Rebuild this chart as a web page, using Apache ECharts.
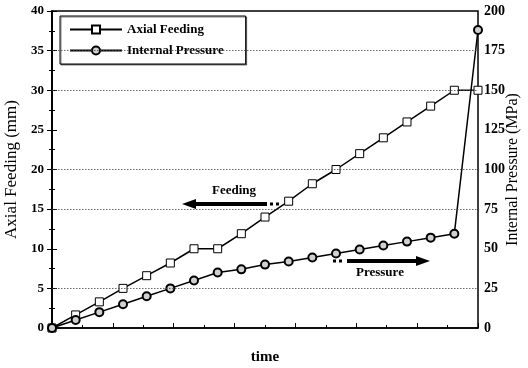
<!DOCTYPE html>
<html>
<head>
<meta charset="utf-8">
<script src="https://cdn.jsdelivr.net/npm/echarts@6/dist/echarts.min.js"></script>
<style>
  html, body { margin: 0; padding: 0; background: #fff; }
  #chart { width: 528px; height: 368px; }
</style>
</head>
<body>
<div id="chart"></div>
<script>
// Sample index along the time axis (evenly spaced loading steps)
const timeSteps = [0,1,2,3,4,5,6,7,8,9,10,11,12,13,14,15,16,17,18];
// Axial feeding, mm (left axis)
const axialFeeding = [0,1.65,3.3,5,6.6,8.2,10,10,11.9,14,16,18.2,20,22,24,26,28,30,30];
// Internal pressure, MPa (right axis)
const internalPressure = [0,5,10,15,20,25,30,35,37,40,42,44.5,47,49.5,52,54.5,57,59.5,188];
// Dotted reference levels on the feeding scale
const guideLevels = [5,15,20,30,35];

const serif = '"Liberation Serif", "Times New Roman", serif';
const chart = echarts.init(document.getElementById('chart'), null, { renderer: 'canvas' });

const pair = (xs, ys) => xs.map((x, i) => [x, ys[i]]);

chart.setOption({
  animation: false,
  backgroundColor: '#fff',
  grid: {
    left: 52, right: 50, top: 11, bottom: 40,
    outerBoundsMode: 'none', containLabel: false,
    show: true, borderColor: '#000', borderWidth: 1.5
  },
  legend: {
    left: 60, top: 16, orient: 'vertical',
    itemWidth: 52, itemHeight: 10, itemGap: 8,
    padding: [7, 22, 7, 9],
    borderColor: '#000', borderWidth: 1,
    shadowColor: 'rgba(0,0,0,0.5)', shadowOffsetX: 1, shadowOffsetY: 1,
    backgroundColor: '#fff',
    textStyle: { fontFamily: serif, fontWeight: 'bold', fontSize: 13, color: '#000' },
    data: ['Axial Feeding', 'Internal Pressure']
  },
  xAxis: [
    {
      // visible time axis: ticks only, no numbers
      type: 'value', min: 0, max: 7, interval: 1,
      name: 'time', nameLocation: 'middle', nameGap: 22,
      nameTextStyle: { fontFamily: serif, fontSize: 15, fontWeight: 'bold', color: '#000' },
      axisLine: { lineStyle: { color: '#000', width: 1.5 } },
      axisTick: { inside: true, length: 5, lineStyle: { color: '#000' } },
      minorTick: { show: true, splitNumber: 2, length: 3, lineStyle: { color: '#000' } },
      axisLabel: { show: false },
      splitLine: { show: false }
    },
    {
      // data axis for the sample index
      type: 'value', min: 0, max: 18, show: false, position: 'bottom'
    }
  ],
  yAxis: [
    {
      type: 'value', min: 0, max: 40, interval: 5, position: 'left',
      name: 'Axial Feeding (mm)', nameLocation: 'middle', nameGap: 30, nameRotate: 90,
      nameTextStyle: { fontFamily: serif, fontSize: 17, color: '#000' },
      axisLine: { show: true, lineStyle: { color: '#000', width: 1.5 } },
      axisTick: { inside: true, length: 5, lineStyle: { color: '#000' } },
      minorTick: { show: true, splitNumber: 2, length: 3, lineStyle: { color: '#000' } },
      axisLabel: { fontFamily: serif, fontSize: 13, fontWeight: 'bold', color: '#000', margin: 8 },
      splitLine: { show: false }
    },
    {
      type: 'value', min: 0, max: 200, interval: 25, position: 'right',
      name: 'Internal Pressure (MPa)', nameLocation: 'middle', nameGap: 27, nameRotate: 90,
      nameMoveOverlap: false,
      nameTextStyle: { fontFamily: serif, fontSize: 16, color: '#000' },
      axisLine: { show: true, lineStyle: { color: '#000', width: 1.5 } },
      axisTick: { inside: true, length: 5, lineStyle: { color: '#000' } },
      minorTick: { show: true, splitNumber: 2, length: 3, lineStyle: { color: '#000' } },
      axisLabel: { fontFamily: serif, fontSize: 14, fontWeight: 'bold', color: '#000', margin: 6 },
      splitLine: { show: false }
    }
  ],
  series: [
    {
      name: 'Axial Feeding', type: 'line', xAxisIndex: 1, yAxisIndex: 0,
      data: pair(timeSteps, axialFeeding),
      symbol: 'rect', symbolSize: 8, showAllSymbol: true,
      lineStyle: { color: '#000', width: 1.5 },
      itemStyle: { color: '#fff', borderColor: '#000', borderWidth: 1 },
      z: 3,
      markLine: {
        silent: true, symbol: 'none', label: { show: false },
        lineStyle: { type: [1.5, 1.5], color: '#444', width: 0.8 },
        data: guideLevels.map(v => ({ yAxis: v }))
      }
    },
    {
      name: 'Internal Pressure', type: 'line', xAxisIndex: 1, yAxisIndex: 1,
      data: pair(timeSteps, internalPressure),
      symbol: 'circle', symbolSize: 8, showAllSymbol: true,
      lineStyle: { color: '#000', width: 1.5 },
      itemStyle: { color: '#d0d0d0', borderColor: '#000', borderWidth: 2 },
      z: 4
    }
  ],
  graphic: [
    // "Feeding" annotation: arrow pointing left
    { type: 'text', left: 212, top: 184, style: { text: 'Feeding', font: 'bold 13px ' + serif, fill: '#000' } },
    { type: 'line', shape: { x1: 190, y1: 204, x2: 267, y2: 204 }, style: { stroke: '#000', lineWidth: 4 } },
    { type: 'line', shape: { x1: 270, y1: 204, x2: 282, y2: 204 }, style: { stroke: '#000', lineWidth: 3, lineDash: [3, 3] } },
    { type: 'polygon', shape: { points: [[182, 204], [196, 199], [196, 209]] }, style: { fill: '#000' } },
    // "Pressure" annotation: arrow pointing right
    { type: 'text', left: 356, top: 266, style: { text: 'Pressure', font: 'bold 13px ' + serif, fill: '#000' } },
    { type: 'line', shape: { x1: 333, y1: 261, x2: 344, y2: 261 }, style: { stroke: '#000', lineWidth: 3, lineDash: [3, 3] } },
    { type: 'line', shape: { x1: 347, y1: 261, x2: 418, y2: 261 }, style: { stroke: '#000', lineWidth: 4 } },
    { type: 'polygon', shape: { points: [[430, 261], [416, 256], [416, 266]] }, style: { fill: '#000' } }
  ]
});
</script>
</body>
</html>
